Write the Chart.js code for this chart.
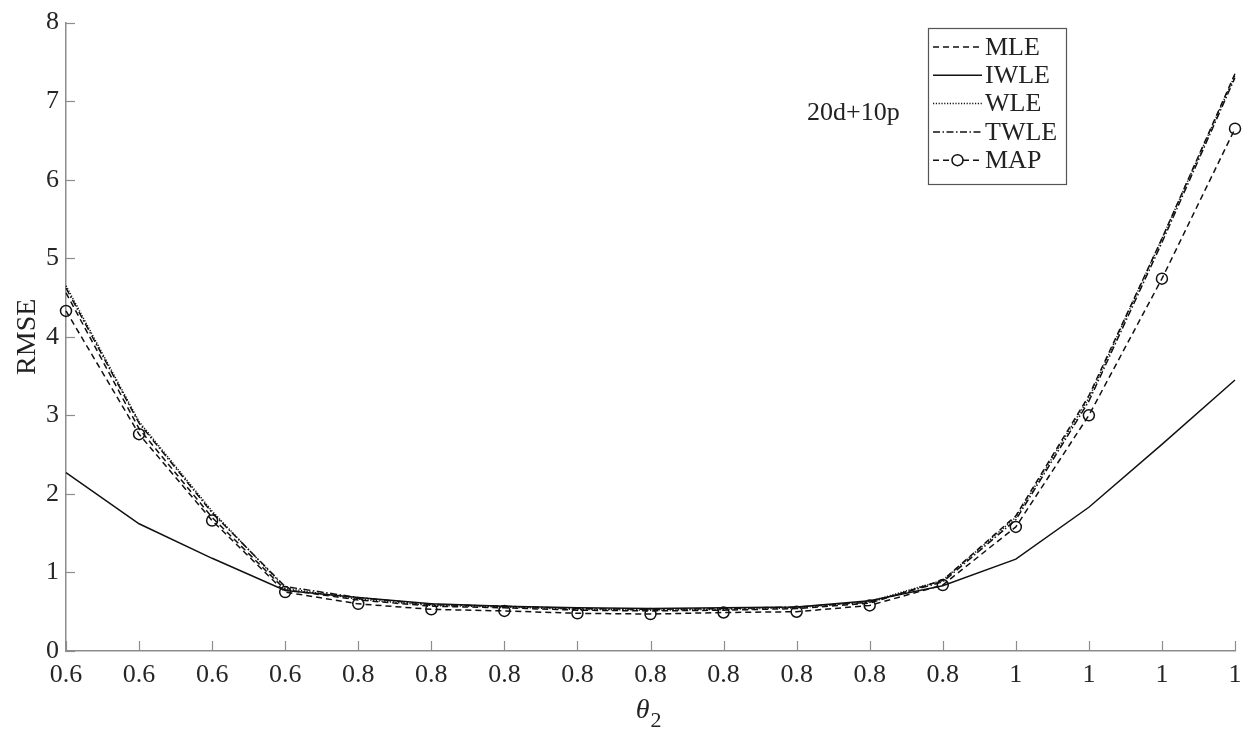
<!DOCTYPE html>
<html>
<head>
<meta charset="utf-8">
<script src="https://cdn.jsdelivr.net/npm/chart.js@4.4.1/dist/chart.umd.min.js"></script>
<style>
  html, body { margin: 0; padding: 0; background: #fff; }
  #wrap { width: 1254px; height: 740px; }
</style>
</head>
<body>
<div id="wrap"><canvas id="c" width="1254" height="740"></canvas></div>
<script>
const categories = ['0.6','0.6','0.6','0.6','0.8','0.8','0.8','0.8','0.8','0.8','0.8','0.8','0.8','1','1','1','1'];
const mleValues  = [4.56, 2.83, 1.70, 0.78, 0.65, 0.57, 0.55, 0.52, 0.51, 0.52, 0.54, 0.61, 0.90, 1.72, 3.25, 5.25, 7.35];
const iwleValues = [2.27, 1.62, 1.18, 0.77, 0.68, 0.60, 0.57, 0.55, 0.54, 0.55, 0.56, 0.64, 0.83, 1.17, 1.83, 2.63, 3.45];
const wleValues  = [4.65, 2.92, 1.78, 0.80, 0.66, 0.58, 0.56, 0.53, 0.52, 0.53, 0.55, 0.63, 0.90, 1.70, 3.22, 5.25, 7.33];
const twleValues = [4.62, 2.90, 1.76, 0.82, 0.68, 0.59, 0.57, 0.54, 0.53, 0.54, 0.56, 0.62, 0.88, 1.67, 3.18, 5.20, 7.30];
const mapValues  = [4.33, 2.76, 1.66, 0.75, 0.60, 0.53, 0.51, 0.48, 0.47, 0.49, 0.50, 0.58, 0.84, 1.58, 3.00, 4.74, 6.65];
const yTicks = [0,1,2,3,4,5,6,7,8];
const seriesNames = ['MLE','IWLE','WLE','TWLE','MAP'];
const annotationText = '20d+10p';
const yTitle = 'RMSE';

const FONT = "'Liberation Serif', 'Times New Roman', serif";
const INK = '#111';
const AXIS = '#8c8c8c';

function ds(label, data, dash, extra) {
  return Object.assign({
    label, data,
    borderColor: INK,
    backgroundColor: INK,
    borderWidth: 1.5,
    borderDash: dash,
    pointRadius: 0,
    tension: 0,
    fill: false
  }, extra || {});
}

const datasets = [
  ds(seriesNames[0], mleValues, [6,4]),
  ds(seriesNames[1], iwleValues, []),
  ds(seriesNames[2], wleValues, [1.2,1.6]),
  ds(seriesNames[3], twleValues, [7,2.5,1.5,2.5]),
  ds(seriesNames[4], mapValues, [6,4], {
    pointRadius: 5.5, pointStyle: 'circle',
    pointBorderColor: INK, pointBackgroundColor: 'rgba(0,0,0,0)', pointBorderWidth: 1.5
  })
];

const decor = {
  id: 'decor',
  afterDraw(chart) {
    const ctx = chart.ctx;
    const ca = chart.chartArea;
    const xs = chart.scales.x, ys = chart.scales.y;
    ctx.save();
    // inward tick marks
    ctx.strokeStyle = AXIS; ctx.lineWidth = 1.2; ctx.setLineDash([]);
    for (let i = 0; i < categories.length; i++) {
      const px = Math.round(xs.getPixelForTick(i)) + 0.5;
      ctx.beginPath(); ctx.moveTo(px, ca.bottom); ctx.lineTo(px, ca.bottom - 10); ctx.stroke();
    }
    yTicks.forEach(v => {
      const py = Math.round(ys.getPixelForValue(v)) + 0.5;
      ctx.beginPath(); ctx.moveTo(ca.left, py); ctx.lineTo(ca.left + 9, py); ctx.stroke();
    });
    // y title
    ctx.fillStyle = '#222';
    ctx.font = '28px ' + FONT;
    ctx.textAlign = 'center'; ctx.textBaseline = 'middle';
    ctx.translate(28, (ca.top + ca.bottom) / 2);
    ctx.rotate(-Math.PI / 2);
    ctx.fillText(yTitle, 0, 0);
    ctx.setTransform(1,0,0,1,0,0);
    // x title theta_2
    ctx.font = 'italic 28px ' + FONT;
    ctx.textAlign = 'left'; ctx.textBaseline = 'alphabetic';
    const cx = (ca.left + ca.right) / 2;
    const wT = ctx.measureText('\u03B8').width;
    ctx.fillText('\u03B8', cx - wT - 1, 718);
    ctx.font = '22px ' + FONT;
    ctx.fillText('2', cx, 727);
    // annotation
    ctx.font = '26px ' + FONT;
    ctx.textAlign = 'left'; ctx.textBaseline = 'middle';
    ctx.fillText(annotationText, 807, 113);
    // legend
    const bx = 928.5, by = 28.5, bw = 138, bh = 156;
    ctx.fillStyle = '#fff';
    ctx.fillRect(bx, by, bw, bh);
    ctx.strokeStyle = '#555'; ctx.lineWidth = 1.2;
    ctx.strokeRect(bx, by, bw, bh);
    chart.data.datasets.forEach((d, i) => {
      const y = 47 + i * 28.3;
      ctx.strokeStyle = INK; ctx.lineWidth = 1.5;
      ctx.setLineDash(d.borderDash || []);
      ctx.beginPath(); ctx.moveTo(933, y); ctx.lineTo(982, y); ctx.stroke();
      ctx.setLineDash([]);
      if (d.pointRadius > 0) {
        ctx.fillStyle = '#fff';
        ctx.beginPath(); ctx.arc(957.5, y, 5.5, 0, Math.PI * 2); ctx.fill(); ctx.stroke();
      }
      ctx.fillStyle = '#222';
      ctx.font = '26px ' + FONT;
      ctx.textAlign = 'left'; ctx.textBaseline = 'middle';
      ctx.fillText(d.label, 985, y + 1);
    });
    ctx.restore();
  }
};

new Chart(document.getElementById('c'), {
  type: 'line',
  data: { labels: categories, datasets },
  options: {
    responsive: false,
    animation: false,
    devicePixelRatio: 1,
    layout: { padding: { top: 20, right: 19, left: 0, bottom: 0 } },
    plugins: { legend: { display: false }, tooltip: { enabled: false } },
    scales: {
      x: {
        type: 'category',
        offset: false,
        grid: { display: false, drawTicks: false, tickLength: 0 },
        border: { display: true, color: AXIS, width: 1.5 },
        ticks: { color: '#262626', font: { family: FONT, size: 26 }, padding: 9, maxRotation: 0, autoSkip: false },
        afterFit(s) { s.height = 89; }
      },
      y: {
        min: 0, max: 8,
        grid: { display: false, drawTicks: false, tickLength: 0 },
        border: { display: true, color: AXIS, width: 1.5 },
        ticks: { stepSize: 1, color: '#262626', font: { family: FONT, size: 26 }, padding: 7 },
        afterFit(s) { s.width = 66; }
      }
    }
  },
  plugins: [decor]
});
</script>
</body>
</html>
